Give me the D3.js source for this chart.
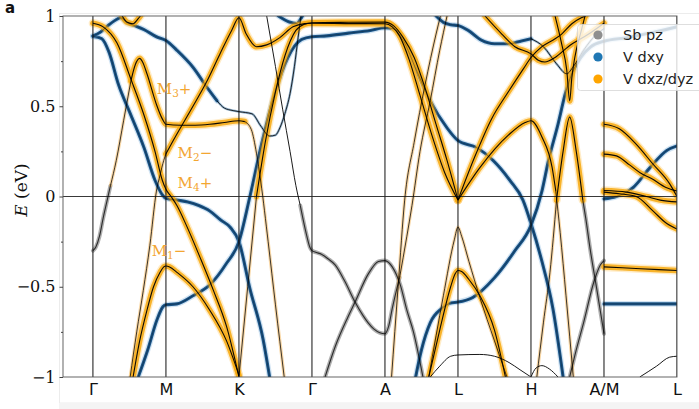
<!DOCTYPE html>
<html><head><meta charset="utf-8">
<script src="https://cdn.jsdelivr.net/npm/d3@7"></script>
<style>body{margin:0;background:#fff}</style>
</head><body><svg id="c" width="699" height="409"></svg>
<script>
// ---------- data ----------
const kLabels = ["Γ","M","K","Γ","A","L","H","A/M","L"];
const kTicks = [0,1,2,3,4,5,6,7,8];
const eTicks = [-1,-0.5,0,0.5,1];
const eMinor = [-0.75,-0.25,0.25,0.75];
const orbitals = ["Sb pz","V dxy","V dxz/dyz"];
const orbKeys = ["sb","dxy","dxz"];

// bands as [k, E (eV)]
const bO1 = [[0,0.96],[0.14,0.94],[0.33,0.85],[0.52,0.65],[0.7,0.45],[0.85,0.25],[0.95,0.09],[1.0,0.04],[1.07,0.0],[1.15,-0.05],[1.28,-0.16],[1.47,-0.34],[1.65,-0.52],[1.83,-0.72],[2.0,-1.0]];
const bB1 = [[0,0.887],[0.12,0.875],[0.22,0.80],[0.35,0.62],[0.5,0.47],[0.7,0.27],[0.85,0.09],[0.95,0.01],[1.0,-0.01],[1.15,-0.02],[1.3,-0.03],[1.45,-0.05],[1.6,-0.08],[1.75,-0.13],[1.88,-0.17],[2.0,-0.25],[2.15,-0.51],[2.33,-0.79],[2.42,-1.0]];
const bB2 = [[0.62,-1.0],[0.75,-0.85],[0.88,-0.68],[0.96,-0.61],[1.0,-0.60],[1.15,-0.595],[1.37,-0.55],[1.6,-0.49],[1.83,-0.37],[2.0,-0.25],[2.15,0.0],[2.31,0.29],[2.49,0.57],[2.67,0.77],[2.86,0.87],[3.0,0.885],[3.2,0.89],[3.5,0.905],[3.8,0.92],[4.0,0.935],[4.11,0.93],[4.25,0.864],[4.43,0.70],[4.62,0.53],[4.85,0.38],[5.0,0.31],[5.26,0.27],[5.48,0.20],[5.71,0.09],[5.89,-0.02],[6.0,-0.15],[6.15,-0.36],[6.3,-0.62],[6.44,-1.0]];
const bG1sb = [[0,-0.30],[0.04,-0.28],[0.09,-0.22],[0.14,-0.12],[0.19,-0.03],[0.24,0.06]];
const bG1thin = [[0.24,0.06],[0.32,0.2],[0.42,0.42],[0.52,0.64]];
const bG1orb = [[0.52,0.64],[0.58,0.73],[0.64,0.765],[0.68,0.745],[0.74,0.68],[0.87,0.51],[0.95,0.43],[1.0,0.40],[1.2,0.395],[1.4,0.395],[1.6,0.40],[1.8,0.41],[2.0,0.42],[2.08,0.415]];
const bG1down = [[2.08,0.415],[2.17,0.37],[2.24,0.24],[2.3,0.08],[2.4,-0.25],[2.5,-0.6],[2.62,-1.0]];
const bM2left = [[0.51,-1.0],[0.6,-0.75],[0.69,-0.52],[0.78,-0.27],[0.87,0.03],[0.92,0.12],[0.97,0.2],[1.0,0.236]];
const bM2right = [[1.0,0.236],[1.1,0.31],[1.37,0.50],[1.55,0.63],[1.74,0.79],[1.9,0.92],[2.0,0.99],[2.1,0.90],[2.24,0.83],[2.38,0.84],[2.56,0.88],[2.74,0.94],[2.9,0.958],[3.0,0.96],[3.5,0.958],[4.0,0.957],[4.1,0.94],[4.2,0.89],[4.33,0.76],[4.48,0.56],[4.65,0.33],[4.82,0.13],[5.0,-0.02]];
const bM1 = [[0.55,-1.0],[0.64,-0.80],[0.74,-0.63],[0.83,-0.50],[0.92,-0.42],[0.97,-0.39],[1.0,-0.385],[1.05,-0.39],[1.15,-0.42],[1.37,-0.50],[1.6,-0.63],[1.83,-0.80],[2.0,-0.99]];
const bTop = [[0,0.89],[0.1,0.91],[0.2,0.945],[0.3,0.975],[0.38,0.99],[0.46,0.965],[0.55,0.95],[0.7,0.925],[0.87,0.885],[1.0,0.864],[1.15,0.81],[1.37,0.716],[1.56,0.606],[1.7,0.53]];
const bTopThin = [[1.7,0.53],[1.8,0.49],[1.92,0.476],[2.0,0.47],[2.18,0.458],[2.3,0.39],[2.42,0.335],[2.5,0.34],[2.56,0.38],[2.63,0.46],[2.7,0.57],[2.76,0.72],[2.81,0.88],[2.85,1.0]];
const bSmallO = [[0.4,1.0],[0.47,0.965],[0.55,0.957],[0.62,0.985],[0.65,1.0]];
const bSmallB = [[2.54,1.0],[2.68,0.968],[2.79,0.958],[2.84,0.98],[2.87,1.0]];
const bRiseThin = [[2.0,-1.0],[2.12,-0.5],[2.24,0.0]];
const bRise = [[2.24,0.0],[2.36,0.3],[2.5,0.58],[2.63,0.78],[2.78,0.92],[2.9,0.955],[3.0,0.963],[3.5,0.965],[4.0,0.966],[4.12,0.945],[4.25,0.88],[4.4,0.77],[4.55,0.6],[4.7,0.4],[4.85,0.2],[5.0,-0.02]];
const bSbThinTop = [[2.38,1.0],[2.5,0.72],[2.6,0.48],[2.7,0.25],[2.78,0.06],[2.84,-0.05]];
const bSb1 = [[2.84,-0.05],[2.88,-0.13],[2.93,-0.22],[2.97,-0.28],[3.0,-0.30],[3.06,-0.31],[3.13,-0.32],[3.22,-0.345],[3.32,-0.38],[3.45,-0.47],[3.59,-0.585],[3.7,-0.66],[3.77,-0.70],[3.85,-0.735],[3.93,-0.755],[4.0,-0.76],[4.05,-0.72],[4.1,-0.62],[4.2,-0.45]];
const bSb1up = [[4.2,-0.45],[4.3,-0.22],[4.37,-0.05],[4.48,0.25],[4.62,0.53],[4.75,0.81],[4.85,1.0]];
const bSb2 = [[3.18,-1.0],[3.32,-0.83],[3.49,-0.67],[3.59,-0.585],[3.77,-0.43],[3.91,-0.36],[4.0,-0.355],[4.1,-0.39],[4.21,-0.49],[4.3,-0.63],[4.39,-0.75],[4.52,-1.0]];
const bSteepA = [[4.09,-1.0],[4.18,-0.5],[4.27,-0.02],[4.4,0.3],[4.55,0.62],[4.7,0.9],[4.76,1.0]];
const bLH = [[4.7,1.0],[4.8,0.965],[4.9,0.952],[5.0,0.947],[5.14,0.92],[5.32,0.866],[5.5,0.846],[5.7,0.846],[5.87,0.862],[6.0,0.874]];
const bLHthin = [[6.0,0.874],[6.17,0.83],[6.35,0.735],[6.49,0.68],[6.58,0.72],[6.72,0.81],[6.9,0.90],[7.0,0.93]];
const bBL = [[4.42,-1.0],[4.5,-0.85],[4.62,-0.70],[4.78,-0.62],[4.9,-0.59],[5.0,-0.585],[5.2,-0.56],[5.5,-0.45],[5.78,-0.30],[6.0,-0.16],[6.15,0.03],[6.24,0.2],[6.37,0.4],[6.47,0.57],[6.56,0.68],[6.68,0.77],[6.82,0.83],[7.0,0.86],[7.31,0.88],[7.68,0.91],[8.0,0.94]];
const bLrise = [[5.0,-0.02],[5.23,0.22],[5.46,0.43],[5.69,0.58],[5.9,0.71],[6.0,0.77],[6.15,0.83],[6.33,0.874],[6.42,0.90],[6.56,0.957],[6.69,0.99],[6.75,1.0]];
const bTopH = [[5.37,1.0],[5.6,0.90],[5.78,0.83],[6.0,0.79],[6.1,0.755],[6.19,0.745],[6.33,0.77],[6.51,0.83],[6.79,0.90],[7.0,0.96]];
const bHpeak = [[5.0,-0.02],[5.3,0.16],[5.69,0.34],[5.92,0.41],[6.0,0.42],[6.15,0.33],[6.29,0.16],[6.34,0.03]];
const bHpeakDown = [[6.34,0.03],[6.4,-0.2],[6.48,-0.55],[6.58,-1.0]];
const bPeakLow = [[6.08,-1.0],[6.17,-0.7],[6.26,-0.42],[6.35,-0.02]];
const bPeakTop = [[6.35,-0.02],[6.44,0.25],[6.53,0.44],[6.62,0.25],[6.71,-0.02]];
const bPeakSb = [[6.71,-0.02],[6.75,-0.12],[6.81,-0.29],[6.9,-0.51],[6.96,-0.66],[7.0,-0.76]];
const bVee = [[6.33,1.0],[6.42,0.846],[6.49,0.70],[6.53,0.53],[6.56,0.66],[6.6,0.77],[6.69,0.92],[6.74,1.0]];
const bSbAM = [[6.53,-1.0],[6.62,-0.85],[6.72,-0.70],[6.86,-0.475],[6.95,-0.38],[7.0,-0.355]];
const bLp1 = [[4.6,-1.0],[4.8,-0.55],[4.95,-0.24],[5.0,-0.17],[5.05,-0.22],[5.15,-0.36],[5.3,-0.56],[5.5,-0.8],[5.67,-1.0]];
const bLp2 = [[4.6,-1.0],[4.75,-0.74],[4.9,-0.5],[4.96,-0.43],[5.0,-0.41],[5.05,-0.415],[5.15,-0.46],[5.3,-0.55],[5.5,-0.74],[5.65,-1.0]];
const bFlatLow = [[4.62,-1.0],[4.75,-0.94],[4.9,-0.885],[5.0,-0.878],[5.3,-0.875],[5.5,-0.885],[5.7,-0.92],[5.85,-0.96],[6.0,-1.0]];
const bBump = [[6.0,-1.0],[6.07,-0.95],[6.15,-0.937],[6.25,-0.955],[6.37,-1.0]];
const bML1 = [[7.0,0.40],[7.21,0.375],[7.44,0.29],[7.67,0.18],[7.9,0.07],[8.0,0.0]];
const bML2 = [[7.0,0.235],[7.17,0.225],[7.35,0.175],[7.5,0.13],[7.65,0.1],[7.85,0.05],[8.0,0.03]];
const bMLblue = [[7.0,-0.013],[7.17,0.0],[7.4,0.05],[7.63,0.16],[7.86,0.255],[8.0,0.28]];
const bML3 = [[7.0,0.033],[7.31,0.024],[7.58,0.0],[7.77,-0.02],[8.0,-0.03]];
const bML4 = [[7.0,0.024],[7.21,0.015],[7.44,0.0],[7.67,-0.08],[7.86,-0.15],[8.0,-0.18]];
const bMLflatO = [[7.0,-0.39],[7.5,-0.40],[8.0,-0.41]];
const bMLflatB = [[7.0,-0.595],[7.5,-0.595],[8.0,-0.595]];
const bMLlow = [[7.49,-1.0],[7.72,-0.94],[7.9,-0.89],[8.0,-0.885]];

const bands = [
  {pts:bO1, orb:"dxz"}, {pts:bB1, orb:"dxy"}, {pts:bB2, orb:"dxy"},
  {pts:bG1sb, orb:"sb"}, {pts:bG1thin, orb:"dxzThin"}, {pts:bG1orb, orb:"dxz"}, {pts:bG1down, orb:"dxzThin"},
  {pts:bM2left, orb:"dxzThin"}, {pts:bM2right, orb:"dxz"}, {pts:bM1, orb:"dxz"},
  {pts:bTop, orb:"dxy"}, {pts:bTopThin, orb:"dxyThin"}, {pts:bSmallO, orb:"dxz"}, {pts:bSmallB, orb:"dxy"},
  {pts:bRiseThin, orb:"dxzThin"}, {pts:bRise, orb:"dxz"},
  {pts:bSbThinTop, orb:"none"}, {pts:bSb1, orb:"sb"}, {pts:bSb1up, orb:"dxzThin"}, {pts:bSb2, orb:"sb"},
  {pts:bSteepA, orb:"dxzThin"}, {pts:bLH, orb:"dxy"}, {pts:bLHthin, orb:"dxyThin"}, {pts:bBL, orb:"dxy"},
  {pts:bLrise, orb:"dxz"}, {pts:bTopH, orb:"dxz"}, {pts:bHpeak, orb:"dxz"}, {pts:bHpeakDown, orb:"dxzThin"},
  {pts:bPeakLow, orb:"dxzThin"}, {pts:bPeakTop, orb:"dxz"}, {pts:bPeakSb, orb:"sb"}, {pts:bVee, orb:"dxz"},
  {pts:bSbAM, orb:"sb"}, {pts:bLp1, orb:"dxzThin"}, {pts:bLp2, orb:"dxz"}, {pts:bFlatLow, orb:"none"}, {pts:bBump, orb:"none"},
  {pts:bML1, orb:"dxz"}, {pts:bML2, orb:"dxz"}, {pts:bMLblue, orb:"dxy"}, {pts:bML3, orb:"dxz"}, {pts:bML4, orb:"dxz"},
  {pts:bMLflatO, orb:"dxz"}, {pts:bMLflatB, orb:"dxy"}, {pts:bMLlow, orb:"none"}
];

const irrepNames = ["M","M","M","M"];
const irrepSubs = ["3","2","4","1"];
const irrepSigns = ["+","−","+","−"];
const irrepK = [0.875,1.16,1.16,0.805];
const irrepE = [0.57,0.215,0.045,-0.33];

// ---------- drawing ----------
const svg = d3.select("#c");
const L=63, R=677, T=16, B=377;
const x = d3.scaleLinear().domain([-0.41,8]).range([L,R]);
const y = d3.scaleLinear().domain([-1,1]).range([B,T]);

svg.append("rect").attr("x",59.5).attr("y",13.5).attr("width",645).attr("height",389.5)
  .attr("fill","none").attr("stroke","#ececec");
svg.append("rect").attr("x",59).attr("y",403).attr("width",640).attr("height",6).attr("fill","#f4f4f4");

svg.append("defs").append("clipPath").attr("id","clip")
  .append("rect").attr("x",L).attr("y",T).attr("width",R-L).attr("height",B-T);

const line = d3.line().x(d=>x(d[0])).y(d=>y(d[1])).curve(d3.curveMonotoneX);

const halo = {
  sb:      [{w:4,c:"#8a8a8a",o:0.7}],
  dxyThin: [{w:2.4,c:"#2a6aa0",o:0.5}],
  dxzThin: [{w:3.2,c:"#f2a93b",o:0.45}],
  dxy:     [{w:5.6,c:"#7fb2de",o:0.35},{w:3.1,c:"#1b5588",o:1}],
  dxz:     [{w:8.5,c:"#ffc04a",o:0.3},{w:5.6,c:"#f7a90e",o:0.85}],
  none:    []
};
const core = {
  sb:{w:1.1,o:0.75}, dxyThin:{w:0.9,o:0.9}, dxzThin:{w:0.9,o:0.85},
  dxy:{w:0.7,o:0.45}, dxz:{w:1.1,o:0.95}, none:{w:1,o:0.9}
};
const order = ["sb","dxyThin","dxzThin","dxy","dxz","none"];

const plot = svg.append("g").attr("clip-path","url(#clip)");
const gHalo = plot.append("g");
const gGrid = plot.append("g");
const gCore = plot.append("g");

order.forEach(o=>{
  bands.filter(b=>b.orb===o).forEach(b=>{
    halo[o].forEach(h=>{
      gHalo.append("path").attr("d",line(b.pts)).attr("fill","none")
        .attr("stroke",h.c).attr("stroke-width",h.w).attr("stroke-opacity",h.o)
        .attr("stroke-linecap","round").attr("stroke-linejoin","round");
    });
  });
});
bands.forEach(b=>{
  gCore.append("path").attr("d",line(b.pts)).attr("fill","none")
    .attr("stroke","#000").attr("stroke-width",core[b.orb].w).attr("stroke-opacity",core[b.orb].o);
});

// symmetry lines and zero line
kTicks.forEach(k=>{
  gGrid.append("line").attr("x1",x(k)).attr("x2",x(k)).attr("y1",T).attr("y2",B)
    .attr("stroke","#111").attr("stroke-width",1);
});
gGrid.append("line").attr("x1",L).attr("x2",R).attr("y1",y(0)).attr("y2",y(0))
  .attr("stroke","#222").attr("stroke-width",0.9);

// frame
svg.append("rect").attr("x",L).attr("y",T).attr("width",R-L).attr("height",B-T)
  .attr("fill","none").attr("stroke","#555").attr("stroke-width",0.9);

// y axis
const fmt = d => d===0 ? "0" : (d<0 ? "−" : "") + Math.abs(d);
const ya = svg.append("g").attr("transform",`translate(${L},0)`)
  .call(d3.axisLeft(y).tickValues(eTicks).tickFormat(fmt).tickSize(3.5).tickPadding(4));
ya.select(".domain").remove();
ya.selectAll("line").attr("stroke","#444");
ya.selectAll("text").attr("font-family","DejaVu Serif").attr("font-size",16).attr("fill","#111");
const ym = svg.append("g").attr("transform",`translate(${L},0)`)
  .call(d3.axisLeft(y).tickValues(eMinor).tickFormat("").tickSize(2));
ym.select(".domain").remove();
ym.selectAll("line").attr("stroke","#444");

// x axis labels
const xa = svg.append("g").attr("transform",`translate(0,${B})`)
  .call(d3.axisBottom(x).tickValues(kTicks).tickFormat((d,i)=>kLabels[i]).tickSize(0).tickPadding(7));
xa.select(".domain").remove();
xa.selectAll("text").attr("font-family","DejaVu Sans").attr("font-size",16).attr("fill","#111");

// y label
const yl = svg.append("text").attr("transform","translate(22,190) rotate(-90)")
  .attr("text-anchor","middle").attr("dominant-baseline","middle")
  .attr("font-family","DejaVu Serif").attr("font-size",17).attr("fill","#111");
yl.append("tspan").attr("font-style","italic").text("E");
yl.append("tspan").text(" (eV)");

// panel letter
svg.append("text").attr("x",5).attr("y",13).attr("font-family","DejaVu Sans").attr("font-weight","bold")
  .attr("font-size",15).attr("fill","#111").text("a");

// irrep labels
irrepNames.forEach((n,i)=>{
  const t = svg.append("text").attr("x",x(irrepK[i])).attr("y",y(irrepE[i]))
    .attr("font-family","DejaVu Serif").attr("font-size",15).attr("fill","#f3a631");
  t.append("tspan").text(n);
  t.append("tspan").attr("font-size",10.5).attr("dy",3).text(irrepSubs[i]);
  t.append("tspan").attr("dy",-3).text(irrepSigns[i]);
});

// legend
const legColors = {sb:"#8f8f8f", dxy:"#1f77b4", dxz:"#ffa500"};
const lg = svg.append("g");
lg.append("rect").attr("x",577.5).attr("y",24.5).attr("width",140).attr("height",66).attr("rx",3)
  .attr("fill","#fff").attr("fill-opacity",0.8).attr("stroke","#d6d6d6").attr("stroke-width",0.8);
orbitals.forEach((name,i)=>{
  const cy = 35 + i*22;
  lg.append("circle").attr("cx",598).attr("cy",cy).attr("r",4.6).attr("fill",legColors[orbKeys[i]]);
  lg.append("text").attr("x",623).attr("y",cy).attr("dominant-baseline","central")
    .attr("font-family","DejaVu Sans").attr("font-size",14.5).attr("fill","#222").text(name);
});
</script></body></html>
